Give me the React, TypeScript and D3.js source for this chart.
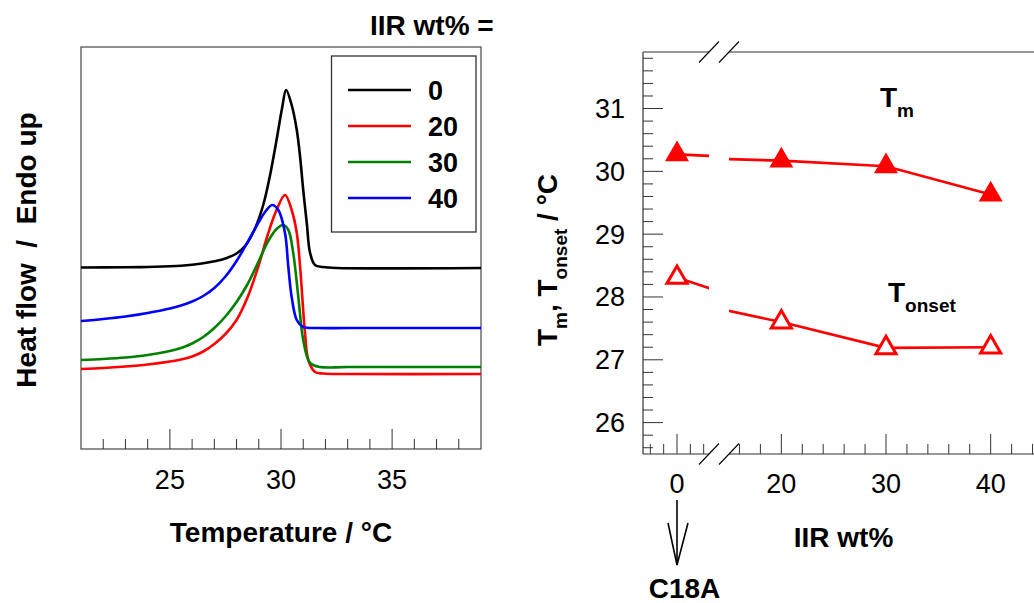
import React from "react";
import * as d3 from "d3";

// ---------- Left panel: DSC curves (heat flow, arbitrary units) ----------
const blackT = [21, 23, 24, 25, 25.5, 26, 26.5, 27, 27.5, 28, 28.4, 28.8, 29.2, 29.5, 29.8, 30.05, 30.23, 30.48, 30.71, 30.86, 31.0, 31.16, 31.31, 31.53, 31.89, 32.5, 39];
const blackHF = [18.15, 18.17, 18.2, 18.27, 18.33, 18.43, 18.57, 18.77, 19.05, 19.55, 20.35, 21.9, 24.4, 27.3, 30.9, 34.1, 35.9, 34.4, 31.9, 29.2, 25.9, 22.6, 19.6, 18.4, 18.2, 18.1, 18.1];

const redT = [21, 22, 23, 24, 25, 25.5, 26, 26.5, 27, 27.5, 28, 28.5, 29, 29.4, 29.8, 30.18, 30.48, 30.71, 30.86, 31.08, 31.23, 31.53, 31.9, 33, 39];
const redHF = [8.0, 8.1, 8.25, 8.45, 8.75, 8.95, 9.25, 9.75, 10.5, 11.5, 12.9, 15.2, 18.4, 21.4, 23.9, 25.4, 23.9, 21.6, 18.2, 11.6, 8.9, 7.7, 7.55, 7.5, 7.5];

const greenT = [21, 22, 23, 24, 25, 25.5, 26, 26.5, 27, 27.5, 28, 28.5, 29, 29.4, 29.8, 30.1, 30.33, 30.55, 30.78, 31.0, 31.31, 31.76, 33, 39];
const greenHF = [8.9, 9.0, 9.15, 9.4, 9.8, 10.1, 10.55, 11.2, 12.1, 13.25, 14.7, 16.5, 18.8, 20.7, 22.0, 22.4, 21.9, 19.6, 15.2, 10.9, 8.6, 8.2, 8.2, 8.2];

const blueT = [21, 22, 23, 24, 25, 25.5, 26, 26.5, 27, 27.5, 28, 28.5, 29, 29.3, 29.6, 29.88, 30.18, 30.33, 30.48, 30.71, 31.0, 31.61, 33, 39];
const blueHF = [12.8, 13.0, 13.25, 13.6, 14.05, 14.35, 14.75, 15.3, 16.1, 17.25, 18.8, 20.7, 22.7, 23.75, 24.4, 23.9, 21.6, 18.2, 15.2, 12.9, 12.2, 12.1, 12.1, 12.1];

const legendLabels = ["0", "20", "30", "40"];
const seriesColors = ["#000000", "#ff0000", "#008000", "#0000ff"];
const tempTicksMajor = [25, 30, 35];
const tempTicksMinor = [22, 23, 24, 26, 27, 28, 29, 31, 32, 33, 34, 36, 37, 38];

// ---------- Right panel: Tm / Tonset vs IIR wt% ----------
const iirWt = [0, 20, 30, 40];
const tmVals = [30.27, 30.17, 30.08, 29.63];
const tonsetVals = [28.31, 27.6, 27.19, 27.2];
const yTicksMajor = [26, 27, 28, 29, 30, 31];
const xLeftTicks = [-4, -2, 0, 2, 4];
const xRightTicks = [16, 18, 20, 22, 24, 26, 28, 30, 32, 34, 36, 38, 40, 42, 44];
const xMajorLabels = [0, 20, 30, 40];

const FONT = "'Liberation Sans', Arial, Helvetica, sans-serif";
const AX = "#333";

export default function App() {
  // left panel scales
  const L = { x0: 81, x1: 481, y0: 47, y1: 449 };
  const xT = d3.scaleLinear().domain([21, 39]).range([L.x0, L.x1]);
  const yHF = d3.scaleLinear().domain([0, 40.2]).range([L.y1, L.y0]);
  const line = d3
    .line<[number, number]>()
    .x((d) => xT(d[0]))
    .y((d) => yHF(d[1]))
    .curve(d3.curveCatmullRom.alpha(0.5));
  const curves = [
    d3.zip(blackT, blackHF),
    d3.zip(redT, redHF),
    d3.zip(greenT, greenHF),
    d3.zip(blueT, blueHF),
  ] as [number, number][][];

  // right panel scales (broken x-axis)
  const R = { x0: 643, y0: 52, y1: 454, breakA: 709, breakB: 729, xEnd: 1043 };
  const xL = d3.scaleLinear().domain([-5.1, 4.8]).range([R.x0, R.breakA]);
  const xR = d3.scaleLinear().domain([15, 45]).range([R.breakB, R.xEnd]);
  const yTemp = d3.scaleLinear().domain([25.5, 31.9]).range([R.y1, R.y0]);
  const xPos = (v: number) => (v < 10 ? xL(v) : xR(v));
  const yMinor = d3.range(25.6, 31.85, 0.2).filter((v) => Math.abs(v - Math.round(v)) > 0.05);

  const lineL = d3.line<number>().x((_, i) => xL(iirWt[i])).y((d) => yTemp(d));
  const lineR = d3.line<number>().x((_, i) => xR(iirWt[i])).y((d) => yTemp(d));
  const triFilled = d3.symbol().type(d3.symbolTriangle).size(250)();
  const triOpen = d3.symbol().type(d3.symbolTriangle).size(175)();

  const slash = (cx: number, cy: number) => (
    <line x1={cx - 10} y1={cy + 10.5} x2={cx + 10} y2={cy - 10.5} stroke="#000" strokeWidth={1.1} />
  );

  return (
    <svg width={1034} height={603} style={{ position: "absolute", left: 0, top: 0, background: "#fff" }} fontFamily={FONT}>
      <defs>
        <clipPath id="clipL"><rect x={R.x0} y={0} width={R.breakA - R.x0} height={603} /></clipPath>
        <clipPath id="clipR"><rect x={R.breakB} y={0} width={R.xEnd - R.breakB} height={603} /></clipPath>
      </defs>

      {/* ================= LEFT PANEL ================= */}
      <text x={370} y={35} fontSize={28} fontWeight="bold">IIR wt% =</text>
      <rect x={L.x0} y={L.y0} width={L.x1 - L.x0} height={L.y1 - L.y0} fill="none" stroke="#555" strokeWidth={1.3} />
      {tempTicksMinor.map((t) => (
        <line key={`tm${t}`} x1={xT(t)} x2={xT(t)} y1={L.y1} y2={L.y1 - 10} stroke={AX} strokeWidth={1} />
      ))}
      {tempTicksMajor.map((t) => (
        <g key={`tM${t}`}>
          <line x1={xT(t)} x2={xT(t)} y1={L.y1} y2={L.y1 - 20} stroke={AX} strokeWidth={1} />
          <text x={xT(t)} y={489} fontSize={27} textAnchor="middle">{t}</text>
        </g>
      ))}
      {curves.map((c, i) => (
        <path key={`c${i}`} d={line(c) || ""} fill="none" stroke={seriesColors[i]} strokeWidth={2.6} strokeLinejoin="round" />
      ))}
      {/* legend */}
      <rect x={331.5} y={56} width={144.5} height={176} fill="#fff" stroke="#333" strokeWidth={1.3} />
      {legendLabels.map((lab, i) => {
        const ly = 90 + i * 36;
        return (
          <g key={`lg${i}`}>
            <line x1={348} x2={411} y1={ly} y2={ly} stroke={seriesColors[i]} strokeWidth={2.6} />
            <text x={428} y={ly + 10} fontSize={27} fontWeight="bold">{lab}</text>
          </g>
        );
      })}
      <text x={281} y={542} fontSize={28} fontWeight="bold" textAnchor="middle">Temperature / °C</text>
      <text transform="translate(36,250) rotate(-90)" fontSize={28} fontWeight="bold" textAnchor="middle" style={{ whiteSpace: "pre" }}>
        {"Heat flow  /  Endo up"}
      </text>

      {/* ================= RIGHT PANEL ================= */}
      <line x1={R.x0} x2={R.x0} y1={R.y0} y2={R.y1} stroke={AX} strokeWidth={1.2} />
      <line x1={R.x0} x2={R.breakA} y1={R.y0} y2={R.y0} stroke={AX} strokeWidth={1.2} />
      <line x1={R.breakB} x2={R.xEnd} y1={R.y0} y2={R.y0} stroke={AX} strokeWidth={1.2} />
      <line x1={R.x0} x2={R.breakA} y1={R.y1} y2={R.y1} stroke={AX} strokeWidth={1.2} />
      <line x1={R.breakB} x2={R.xEnd} y1={R.y1} y2={R.y1} stroke={AX} strokeWidth={1.2} />
      {[R.breakA, R.breakB].map((bx) => (
        <g key={`br${bx}`}>
          {slash(bx, R.y0)}
          {slash(bx, R.y1)}
        </g>
      ))}
      {yMinor.map((v) => (
        <line key={`ym${v.toFixed(1)}`} x1={R.x0} x2={R.x0 + 10} y1={yTemp(v)} y2={yTemp(v)} stroke={AX} strokeWidth={1} />
      ))}
      {yTicksMajor.map((v) => (
        <g key={`yM${v}`}>
          <line x1={R.x0} x2={R.x0 + 20} y1={yTemp(v)} y2={yTemp(v)} stroke={AX} strokeWidth={1} />
          <text x={625} y={yTemp(v) + 9.5} fontSize={27} textAnchor="end">{v}</text>
        </g>
      ))}
      {xLeftTicks.map((v) => (
        <line key={`xl${v}`} x1={xL(v)} x2={xL(v)} y1={R.y1} y2={R.y1 - (v === 0 ? 20 : 10)} stroke={AX} strokeWidth={1} />
      ))}
      {xRightTicks.map((v) => (
        <line key={`xr${v}`} x1={xR(v)} x2={xR(v)} y1={R.y1} y2={R.y1 - (v % 10 === 0 ? 20 : 10)} stroke={AX} strokeWidth={1} />
      ))}
      {xMajorLabels.map((v) => (
        <text key={`xlab${v}`} x={xPos(v)} y={493} fontSize={27} textAnchor="middle">{v}</text>
      ))}

      {[tmVals, tonsetVals].map((vals, k) => (
        <g key={`ln${k}`}>
          <path d={lineL(vals) || ""} clipPath="url(#clipL)" fill="none" stroke="#ff0000" strokeWidth={2.6} />
          <path d={lineR(vals) || ""} clipPath="url(#clipR)" fill="none" stroke="#ff0000" strokeWidth={2.6} />
        </g>
      ))}
      {tmVals.map((v, i) => (
        <path key={`mtm${i}`} d={triFilled || ""} transform={`translate(${xPos(iirWt[i])},${yTemp(v)})`} fill="#ff0000" />
      ))}
      {tonsetVals.map((v, i) => (
        <path key={`mto${i}`} d={triOpen || ""} transform={`translate(${xPos(iirWt[i])},${yTemp(v)})`} fill="#fff" stroke="#ff0000" strokeWidth={3} />
      ))}

      <text x={880} y={107} fontSize={28} fontWeight="bold">
        T<tspan fontSize={19} dy={10}>m</tspan>
      </text>
      <text x={888} y={302} fontSize={28} fontWeight="bold">
        T<tspan fontSize={19} dy={10}>onset</tspan>
      </text>
      <text transform="translate(557,260) rotate(-90)" fontSize={28} fontWeight="bold" textAnchor="middle" style={{ whiteSpace: "pre" }}>
        T<tspan fontSize={19} dy={10}>m</tspan>
        <tspan dy={-10}>, T</tspan>
        <tspan fontSize={19} dy={10}>onset</tspan>
        <tspan dy={-10}> / °C</tspan>
      </text>
      <text x={843.5} y={547} fontSize={28} fontWeight="bold" textAnchor="middle">IIR wt%</text>

      <line x1={677} x2={677} y1={500} y2={565} stroke="#000" strokeWidth={1.6} />
      <polyline points="668,523 677,565 688,523" fill="none" stroke="#000" strokeWidth={1.6} />
      <text x={684.5} y={598} fontSize={28} fontWeight="bold" textAnchor="middle">C18A</text>
    </svg>
  );
}
